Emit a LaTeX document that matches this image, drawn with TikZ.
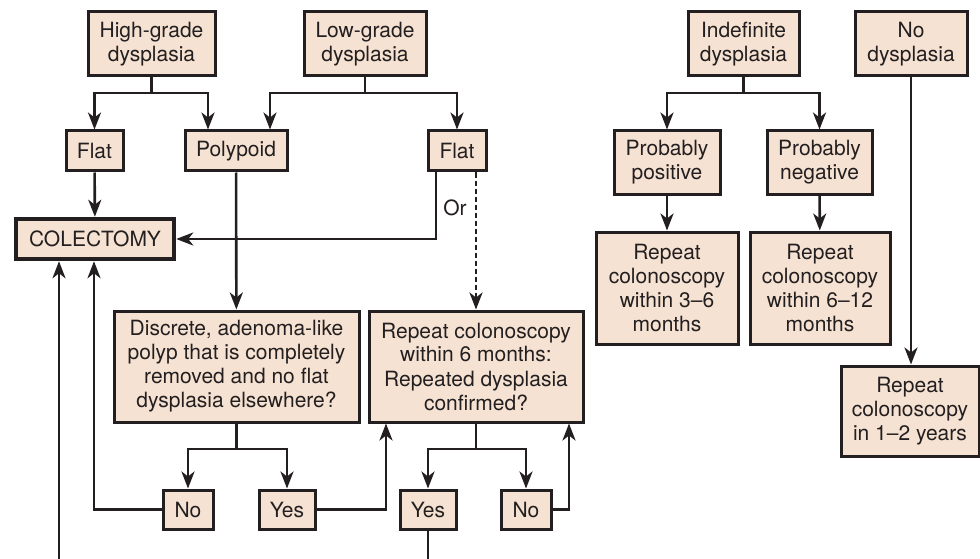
\documentclass[tikz,border=0pt]{standalone}
\usepackage{fontspec}
\setmainfont{TeX Gyre Heros}
\usetikzlibrary{arrows.meta}
\definecolor{boxfill}{RGB}{245,226,210}
\definecolor{ink}{RGB}{35,31,32}

\begin{document}
\begin{tikzpicture}[x=1pt,y=-1pt,
	box/.style={draw=ink,fill=boxfill,line width=3pt,align=center,inner sep=0pt,text=ink,font=\fontsize{21}{24}\selectfont},
	sz/.style 2 args={minimum width=#1pt,minimum height=#2pt},
	arr/.style={draw=ink,line width=2.6pt,-{Stealth[length=17pt,width=13pt,inset=5pt]}},
	line/.style={draw=ink,line width=2.6pt}]

	\useasboundingbox (0,0) rectangle (980,559);
	\clip (0,0) rectangle (980,559);

	% top row
	\node[box,sz={127}{64}] (hgd) at (151.5,44) {High-grade\\dysplasia};
	\node[box,sz={122}{64}] (lgd) at (365,44) {Low-grade\\dysplasia};
	\node[box,sz={111}{64}] (ind) at (743.5,44) {Indefinite\\dysplasia};
	\node[box,sz={112}{64}] (nod) at (911,44) {No\\dysplasia};

	\node[box,sz={57}{40}] (flat1) at (94.5,151) {Flat};
	\node[box,sz={102}{40}] (poly) at (236,151) {Polypoid};
	\node[box,sz={58}{40}] (flat2) at (457,151) {Flat};
	\node[box,sz={106}{63}] (ppos) at (667,162.5) {Probably\\positive};
	\node[box,sz={105}{63}] (pneg) at (819.5,162.5) {Probably\\negative};

	\node[box,sz={158}{40},line width=4.5pt] (colec) at (95,239) {COLECTOMY};
	\node[text=ink,font=\fontsize{21}{24}\selectfont] (or) at (455,208) {Or};

	\node[box,sz={142}{112}] (r36) at (667,288) {Repeat\\colonoscopy\\within 3–6\\months};
	\node[box,sz={140}{112}] (r612) at (820,288) {Repeat\\colonoscopy\\within 6–12\\months};
	\node[box,sz={138}{90}] (r12) at (910,411) {Repeat\\colonoscopy\\in 1–2 years};

	\node[box,sz={245}{111}] (disc) at (236.5,366.5) {Discrete, adenoma-like\\polyp that is completely\\removed and no flat\\dysplasia elsewhere?};
	\node[box,sz={214}{111}] (rep) at (476,366.5) {Repeat colonoscopy\\within 6 months:\\Repeated dysplasia\\confirmed?};

	\node[box,sz={50}{39}] (no1) at (188,509.5) {No};
	\node[box,sz={56}{39}] (yes1) at (287,509.5) {Yes};
	\node[box,sz={56}{39}] (yes2) at (428,509.5) {Yes};
	\node[box,sz={50}{39}] (no2) at (526,509.5) {No};

	% forks
	\coordinate (hfork) at (151.5,93);
	\coordinate (lfork) at (365,93);
	\coordinate (ifork) at (743.5,93);
	\coordinate (dfork) at (236.5,449);
	\coordinate (rfork) at (476,449);
	\coordinate (low) at (428,590);

	\draw[arr] (hgd) -- (hfork) -| (flat1);
	\draw[arr] (hfork) -| ([xshift=-28pt]poly.north);
	\draw[arr] (lgd) -- (lfork) -| ([xshift=34pt]poly.north);
	\draw[arr] (lfork) -| (flat2);
	\draw[arr] (ind) -- (ifork) -| (ppos);
	\draw[arr] (ifork) -| (pneg);

	\draw[arr] (flat1) -- (colec);
	\draw[arr] ([xshift=-21pt]flat2.south) |- (colec.east);
	\draw[arr,dash pattern=on 5pt off 3pt] (rep.north |- flat2.south) -- (rep.north);
	\draw[arr] (poly) -- (disc);
	\draw[arr] (ppos) -- (r36);
	\draw[arr] (pneg) -- (r612);
	\draw[arr] (nod) -- (r12.north -| nod.south);

	\draw[arr] (disc) -- (dfork) -| (no1);
	\draw[arr] (dfork) -| (yes1);
	\draw[arr] (rep) -- (rfork) -| (yes2);
	\draw[arr] (rfork) -| (no2);

	\draw[arr] (no1) -| ([xshift=-1pt]colec.south);
	\draw[arr] (yes1) -| ([xshift=-90pt]rep.south);
	\draw[arr] (no2) -| ([xshift=93pt]rep.south);
	\draw[arr] (yes2) -- (low) -| ([xshift=-36pt]colec.south);

\end{tikzpicture}
\end{document}
